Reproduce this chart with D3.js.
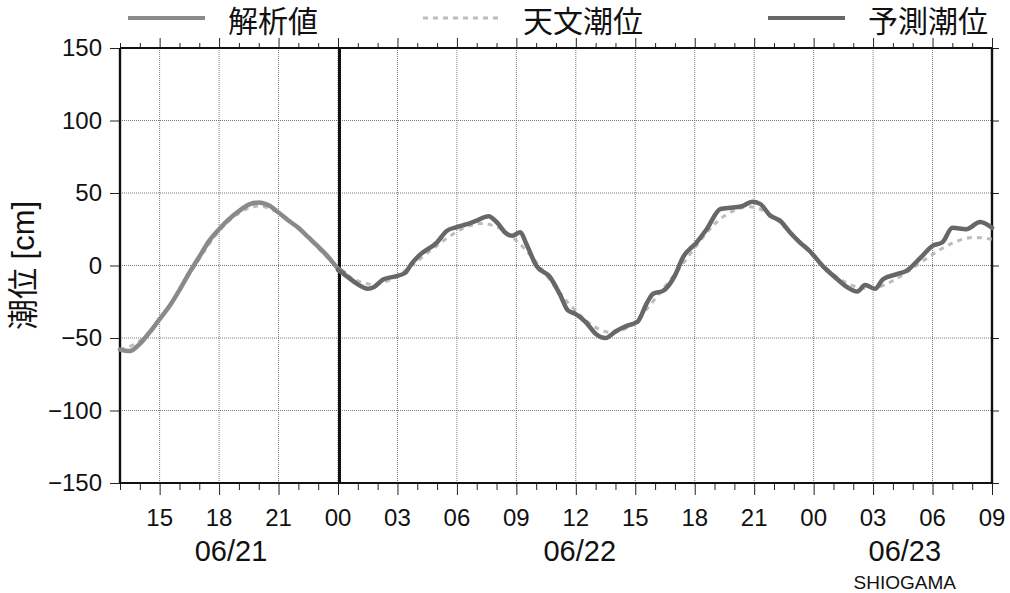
<!DOCTYPE html>
<html>
<head>
<meta charset="utf-8">
<script src="https://cdn.jsdelivr.net/npm/d3@7"></script>
<style>
  html, body { margin: 0; padding: 0; background: #fff; }
  svg { display: block; }
  text { font-family: "Liberation Sans", Arial, "Noto Sans CJK JP", sans-serif; fill: #111; }
</style>
</head>
<body>
<div id="chart"></div>
<script>
// hours counted from 06/21 00:00
var analysisHours = [13, 13.5, 14, 14.5, 15, 15.5, 16, 16.5, 17, 17.5, 18, 18.5, 19, 19.5, 20, 20.5, 21, 21.5, 22, 22.5, 23, 23.5, 24, 24.3];
var analysisValues = [-58, -59, -54, -46, -37, -28, -17, -5, 6, 17, 25, 32, 37.5, 42, 43.5, 41.5, 36.5, 31, 26, 19.5, 13, 6, -2, -5];

var forecastHours = [24, 24.5, 25, 25.5, 25.8, 26.3, 26.9, 27.4, 27.7, 28.1, 29, 29.5, 30, 30.5, 31, 31.6, 32, 32.5, 32.8, 33.2, 33.5, 34, 34.7, 35.2, 35.6, 36, 36.5, 37, 37.5, 38, 38.6, 39.1, 39.6, 39.9, 40.4, 41, 41.4, 42.1, 42.6, 43.3, 43.9, 44.4, 44.9, 45.3, 45.8, 46.3, 46.8, 47.3, 47.8, 48.5, 49.2, 49.7, 50.2, 50.6, 51.1, 51.5, 52.2, 52.7, 53.4, 54, 54.5, 55, 55.7, 56.4, 57];
var forecastValues = [-3, -8, -13, -16, -15, -9.5, -7.5, -5, 1, 7, 16, 24, 26.5, 28.5, 31, 34, 30, 22, 20.5, 23, 15, 0, -8, -20, -31, -33.5, -39, -47, -50, -45.5, -41.5, -39, -25.5, -19.5, -17.5, -7, 5.5, 16, 25, 39, 40, 41, 44, 42.5, 34.5, 31, 23, 16, 10, -1, -9.5, -15, -18, -13.5, -16, -9.5, -6, -3.5, 5.5, 13.5, 16, 26, 25, 30, 26];

var tideHours = [13, 14, 15, 16, 17, 18, 19, 20, 21, 22, 23, 24, 25, 26, 27, 28, 29, 30, 31, 32, 33, 34, 35, 36, 37, 38, 39, 40, 41, 42, 43, 44, 45, 46, 47, 48, 49, 50, 51, 52, 53, 54, 55, 56, 57];
var tideValues = [-58, -54, -38, -17, 5, 25, 37, 43, 37, 26, 12, -2, -12, -14, -8, 3, 14, 24, 30, 28, 18, 3, -16, -32, -44, -48, -40, -23, -6, 12, 30, 39, 42, 34, 20, 6, -7, -15, -17, -11, -2, 8, 16, 20.5, 18];

var hourTicks = [15, 18, 21, 24, 27, 30, 33, 36, 39, 42, 45, 48, 51, 54, 57];
var hourTickLabels = ["15", "18", "21", "00", "03", "06", "09", "12", "15", "18", "21", "00", "03", "06", "09"];
var dateLabels = ["06/21", "06/22", "06/23"];
var datePositions = [18.6, 36.2, 52.6];
var levelTicks = [-150, -100, -50, 0, 50, 100, 150];
var levelTickLabels = ["\u2212150", "\u2212100", "\u221250", "0", "50", "100", "150"];
var seriesNames = ["解析値", "天文潮位", "予測潮位"];
var stationName = "SHIOGAMA";

function zip(h, v) { return h.map(function(d, i) { return {h: d, v: v[i]}; }); }

var width = 1010, height = 593;
var margin = {left: 120, right: 18, top: 48, bottom: 110};
var innerW = width - margin.left - margin.right,
    innerH = height - margin.top - margin.bottom;

var svg = d3.select("#chart").append("svg")
    .attr("width", width)
    .attr("height", height);
var g = svg.append("g").attr("transform", "translate(" + margin.left + "," + margin.top + ")");

var x = d3.scaleLinear().domain([13, 57]).range([0, innerW]);
var y = d3.scaleLinear().domain([-150, 150]).range([innerH, 0]);

// grid
g.append("g").selectAll("line").data(hourTicks.slice(0, -1)).enter().append("line")
    .attr("x1", function(d) { return x(d); }).attr("x2", function(d) { return x(d); })
    .attr("y1", 0).attr("y2", innerH)
    .attr("stroke", "#777").attr("stroke-width", 1).attr("stroke-dasharray", "1,1");
g.append("g").selectAll("line").data(levelTicks.slice(1, -1)).enter().append("line")
    .attr("x1", 0).attr("x2", innerW)
    .attr("y1", function(d) { return y(d); }).attr("y2", function(d) { return y(d); })
    .attr("stroke", "#777").attr("stroke-width", 1).attr("stroke-dasharray", "1,1");

// hour ticks, top and bottom
var minorHours = d3.range(13, 58);
var bottomAxis = d3.axisBottom(x).tickValues(minorHours).tickSize(7).tickFormat("");
var gb = g.append("g").attr("transform", "translate(0," + innerH + ")").call(bottomAxis);
var topAxis = d3.axisTop(x).tickValues(minorHours).tickSize(5).tickFormat("");
var gt = g.append("g").call(topAxis);
[gb, gt].forEach(function(a) {
    a.select(".domain").remove();
    a.selectAll(".tick line").attr("stroke", "#222").attr("stroke-width", 1);
});
gb.selectAll(".tick line").filter(function(d) { return d % 3 === 0; }).attr("y2", 12);
gt.selectAll(".tick line").filter(function(d) { return d % 3 === 0; }).attr("y2", -10);

g.append("g").selectAll("text").data(hourTicks).enter().append("text")
    .attr("x", function(d) { return x(d); })
    .attr("y", innerH + 43)
    .attr("text-anchor", "middle")
    .attr("font-size", 24)
    .text(function(d, i) { return hourTickLabels[i]; });

g.append("g").selectAll("text").data(dateLabels).enter().append("text")
    .attr("x", function(d, i) { return x(datePositions[i]); })
    .attr("y", innerH + 78)
    .attr("text-anchor", "middle")
    .attr("font-size", 29)
    .text(function(d) { return d; });

svg.append("text")
    .attr("x", margin.left + x(datePositions[2]))
    .attr("y", 589)
    .attr("text-anchor", "middle")
    .attr("font-size", 19)
    .text(stationName);

// level axis
var leftAxis = d3.axisLeft(y).tickValues(levelTicks).tickSize(10).tickPadding(8)
    .tickFormat(function(d, i) { return levelTickLabels[i]; });
var gl = g.append("g").call(leftAxis);
gl.select(".domain").remove();
gl.selectAll(".tick line").attr("stroke", "#222");
gl.selectAll(".tick text").attr("font-size", 24).attr("fill", "#111")
    .attr("font-family", "Liberation Sans, Arial, sans-serif");
var rightAxis = d3.axisRight(y).tickValues(levelTicks).tickSize(7).tickFormat("");
var gr = g.append("g").attr("transform", "translate(" + innerW + ",0)").call(rightAxis);
gr.select(".domain").remove();
gr.selectAll(".tick line").attr("stroke", "#222");

svg.append("text")
    .attr("transform", "translate(34," + (margin.top + y(0)) + ") rotate(-90)")
    .attr("text-anchor", "middle")
    .attr("font-size", 31)
    .text("潮位 [cm]");

// frame
g.append("line").attr("x1", 0).attr("x2", innerW).attr("y1", 0).attr("y2", 0)
    .attr("stroke", "#111").attr("stroke-width", 1.8);
g.append("line").attr("x1", 0).attr("x2", innerW).attr("y1", innerH).attr("y2", innerH)
    .attr("stroke", "#111").attr("stroke-width", 1.8);
g.append("line").attr("x1", 0).attr("x2", 0).attr("y1", 0).attr("y2", innerH)
    .attr("stroke", "#111").attr("stroke-width", 2.4);
g.append("line").attr("x1", innerW).attr("x2", innerW).attr("y1", 0).attr("y2", innerH)
    .attr("stroke", "#111").attr("stroke-width", 2.4);
g.append("line").attr("x1", x(24) + 1.5).attr("x2", x(24) + 1.5).attr("y1", 0).attr("y2", innerH)
    .attr("stroke", "#111").attr("stroke-width", 3);

// series
var line = d3.line()
    .x(function(d) { return x(d.h); })
    .y(function(d) { return y(d.v); })
    .curve(d3.curveMonotoneX);
var smooth = d3.line()
    .x(function(d) { return x(d.h); })
    .y(function(d) { return y(d.v); })
    .curve(d3.curveBasis);

g.append("path").datum(zip(tideHours, tideValues))
    .attr("fill", "none").attr("stroke", "#bcbcbc").attr("stroke-width", 3)
    .attr("stroke-dasharray", "5,5").attr("d", smooth);
g.append("path").datum(zip(analysisHours, analysisValues))
    .attr("fill", "none").attr("stroke", "#8a8a8a").attr("stroke-width", 4.5)
    .attr("stroke-linejoin", "round").attr("stroke-linecap", "round").attr("d", line);
g.append("path").datum(zip(forecastHours, forecastValues))
    .attr("fill", "none").attr("stroke", "#676767").attr("stroke-width", 4.5)
    .attr("stroke-linejoin", "round").attr("stroke-linecap", "round").attr("d", line);

// legend
var legendItems = [
    {x1: 128, x2: 205, tx: 228, stroke: "#8a8a8a", w: 4, dash: null},
    {x1: 423, x2: 500, tx: 523, stroke: "#bcbcbc", w: 3, dash: "5,5"},
    {x1: 768, x2: 845, tx: 868, stroke: "#676767", w: 4, dash: null}
];
var lg = svg.append("g");
legendItems.forEach(function(it, i) {
    lg.append("line").attr("x1", it.x1).attr("x2", it.x2).attr("y1", 18).attr("y2", 18)
        .attr("stroke", it.stroke).attr("stroke-width", it.w)
        .attr("stroke-dasharray", it.dash);
    lg.append("text").attr("x", it.tx).attr("y", 32)
        .attr("font-size", 30)
        .attr("font-family", "Noto Sans CJK JP, sans-serif")
        .text(seriesNames[i]);
});
</script>
</body>
</html>
